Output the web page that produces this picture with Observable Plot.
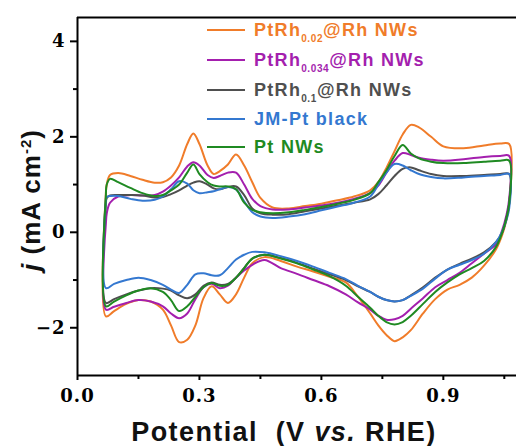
<!DOCTYPE html>
<html>
<head>
<meta charset="utf-8">
<script src="https://cdn.jsdelivr.net/npm/d3@7"></script>
<script src="https://cdn.jsdelivr.net/npm/@observablehq/plot@0.6"></script>
<style>
  html, body { margin: 0; padding: 0; background: #fff; }
  #chart { position: relative; width: 516px; height: 446px; }
</style>
</head>
<body>
<div id="chart"></div>
<script>
// Anodic (forward) scan potentials, V vs. RHE
const potentialUp = [0.07, 0.072, 0.08, 0.10, 0.13, 0.16, 0.19, 0.21, 0.23, 0.25, 0.27, 0.285, 0.30, 0.32, 0.335, 0.35, 0.37, 0.39, 0.41, 0.43, 0.45, 0.48, 0.52, 0.56, 0.60, 0.64, 0.68, 0.72, 0.74, 0.76, 0.78, 0.80, 0.82, 0.84, 0.87, 0.90, 0.95, 1.00, 1.04, 1.062];
// Cathodic (reverse) scan potentials
const potentialDown = [1.062, 1.055, 1.045, 1.03, 1.00, 0.97, 0.94, 0.91, 0.88, 0.85, 0.82, 0.80, 0.78, 0.76, 0.74, 0.72, 0.69, 0.66, 0.62, 0.58, 0.54, 0.50, 0.46, 0.43, 0.41, 0.39, 0.37, 0.35, 0.33, 0.31, 0.29, 0.27, 0.25, 0.23, 0.21, 0.18, 0.15, 0.12, 0.09, 0.07];

// PtRh0.02@Rh NWs
const orangeUp = [0.85, 1.0, 1.2, 1.24, 1.18, 1.10, 1.04, 1.05, 1.15, 1.4, 1.85, 2.07, 1.85, 1.4, 1.22, 1.28, 1.42, 1.63, 1.4, 1.05, 0.72, 0.52, 0.5, 0.55, 0.6, 0.67, 0.75, 0.88, 1.05, 1.35, 1.7, 2.05, 2.25, 2.2, 2.0, 1.8, 1.76, 1.82, 1.86, 1.85];
const orangeDown = [0.6, 0.25, -0.05, -0.35, -0.7, -0.95, -1.1, -1.2, -1.4, -1.7, -2.05, -2.2, -2.28, -2.15, -1.95, -1.7, -1.35, -1.05, -0.93, -0.82, -0.72, -0.6, -0.52, -0.65, -0.95, -1.3, -1.48, -1.3, -1.13, -1.38, -1.95, -2.25, -2.3, -1.95, -1.62, -1.45, -1.42, -1.5, -1.65, -1.76];
// PtRh0.034@Rh NWs
const purpleUp = [0.2, 0.4, 0.62, 0.75, 0.78, 0.77, 0.78, 0.85, 0.98, 1.15, 1.38, 1.47, 1.4, 1.2, 1.14, 1.18, 1.25, 1.25, 1.0, 0.7, 0.55, 0.48, 0.48, 0.52, 0.56, 0.62, 0.7, 0.82, 0.98, 1.25, 1.5, 1.66, 1.62, 1.56, 1.52, 1.5, 1.53, 1.58, 1.6, 1.6];
const purpleDown = [0.7, 0.35, 0.05, -0.25, -0.45, -0.65, -0.85, -1.0, -1.15, -1.38, -1.6, -1.75, -1.82, -1.83, -1.75, -1.62, -1.47, -1.3, -1.13, -1.0, -0.87, -0.75, -0.58, -0.68, -0.8, -0.95, -1.12, -1.17, -1.08, -1.15, -1.4, -1.7, -1.8, -1.7, -1.55, -1.45, -1.42, -1.48, -1.56, -1.62];
// PtRh0.1@Rh NWs
const grayUp = [0.6, 0.72, 0.77, 0.78, 0.78, 0.77, 0.73, 0.74, 0.8, 0.88, 0.98, 1.04, 1.07, 1.0, 0.92, 0.9, 0.95, 0.96, 0.78, 0.5, 0.4, 0.37, 0.38, 0.44, 0.5, 0.56, 0.62, 0.69, 0.8, 0.98, 1.18, 1.33, 1.36, 1.3, 1.22, 1.18, 1.18, 1.2, 1.22, 1.22];
const grayDown = [0.6, 0.3, 0.0, -0.2, -0.42, -0.55, -0.66, -0.78, -0.95, -1.15, -1.32, -1.42, -1.45, -1.42, -1.35, -1.25, -1.13, -1.0, -0.88, -0.76, -0.64, -0.54, -0.47, -0.55, -0.75, -0.95, -1.08, -1.1, -1.05, -1.12, -1.3, -1.38, -1.32, -1.22, -1.18, -1.17, -1.22, -1.3, -1.4, -1.48];
// JM-Pt black
const blueUp = [0.72, 0.74, 0.76, 0.76, 0.7, 0.66, 0.68, 0.75, 0.9, 1.07, 1.02, 0.88, 0.82, 0.84, 0.86, 0.9, 0.95, 0.9, 0.65, 0.42, 0.33, 0.3, 0.33, 0.38, 0.46, 0.54, 0.62, 0.75, 1.0, 1.25, 1.43, 1.4, 1.3, 1.22, 1.16, 1.13, 1.15, 1.18, 1.2, 1.22];
const blueDown = [0.5, 0.25, 0.02, -0.2, -0.45, -0.58, -0.68, -0.78, -0.97, -1.18, -1.33, -1.42, -1.45, -1.42, -1.35, -1.25, -1.12, -0.98, -0.85, -0.72, -0.6, -0.5, -0.42, -0.41, -0.47, -0.57, -0.75, -0.9, -0.9, -0.86, -0.88, -1.1, -1.27, -1.2, -1.1, -1.0, -0.95, -1.0, -1.08, -1.17];
// Pt NWs
const greenUp = [0.8, 1.0, 1.12, 1.05, 0.93, 0.82, 0.76, 0.78, 0.88, 1.0, 1.25, 1.42, 1.22, 1.05, 0.98, 0.96, 0.96, 0.9, 0.62, 0.47, 0.42, 0.4, 0.42, 0.47, 0.53, 0.6, 0.68, 0.82, 1.05, 1.3, 1.6, 1.83, 1.65, 1.55, 1.48, 1.45, 1.45, 1.48, 1.5, 1.5];
const greenDown = [0.6, 0.28, 0.0, -0.3, -0.6, -0.75, -0.88, -1.05, -1.25, -1.5, -1.75, -1.88, -1.93, -1.88, -1.75, -1.58, -1.35, -1.12, -0.92, -0.78, -0.65, -0.55, -0.47, -0.55, -0.75, -0.95, -1.1, -1.12, -1.06, -1.15, -1.35, -1.55, -1.65, -1.42, -1.25, -1.17, -1.22, -1.32, -1.45, -1.55];

const seriesNames = ["PtRh0.02@Rh NWs", "PtRh0.034@Rh NWs", "PtRh0.1@Rh NWs", "JM-Pt black", "Pt NWs"];
const seriesColors = ["#F07C2A", "#A41FAE", "#4F4F4F", "#3478D0", "#1F8A22"];
const upValues = [orangeUp, purpleUp, grayUp, blueUp, greenUp];
const downValues = [orangeDown, purpleDown, grayDown, blueDown, greenDown];

const yTicks = [-2, 0, 2, 4];
const yMinorTicks = [-1, 1, 3];
const xTicks = [0.0, 0.3, 0.6, 0.9];
const xMinorTicks = [0.15, 0.45, 0.75, 1.05];

// Legend text parts: [main, subscript, rest]
const legendParts = [["PtRh", "0.02", "@Rh NWs"], ["PtRh", "0.034", "@Rh NWs"], ["PtRh", "0.1", "@Rh NWs"], ["JM-Pt black", "", ""], ["Pt NWs", "", ""]];

const data = [];
seriesNames.forEach((name, si) => {
  const pts = [];
  potentialUp.forEach((p, i) => pts.push({ E: p, j: upValues[si][i], s: name }));
  potentialDown.forEach((p, i) => pts.push({ E: p, j: downValues[si][i], s: name }));
  pts.push({ ...pts[0] });
  data.push(...pts);
});

const chart = Plot.plot({
  width: 516,
  height: 446,
  marginLeft: 77,
  marginRight: 0,
  marginTop: 17,
  marginBottom: 71,
  style: { fontFamily: "DejaVu Serif", fontSize: "18px", fontWeight: "bold", background: "#fff", letterSpacing: "1px" },
  x: { domain: [0, 1.08] },
  y: { domain: [-3, 4.5] },
  color: { domain: seriesNames, range: seriesColors },
  marks: [
    Plot.line(data, { x: "E", y: "j", z: "s", stroke: "s", strokeWidth: 2, curve: "catmull-rom" }),
    Plot.axisY({ ticks: yTicks, tickSize: 7, tickPadding: 5, strokeWidth: 2, label: null, tickFormat: d => d < 0 ? "\u2212" + Math.abs(d) : String(d) }),
    Plot.axisY({ ticks: yMinorTicks, tickSize: 4, strokeWidth: 2, text: null, label: null }),
    Plot.axisX({ ticks: xTicks, tickSize: 5, tickPadding: 9, strokeWidth: 2, label: null, tickFormat: d => d.toFixed(1) }),
    Plot.axisX({ ticks: xMinorTicks, tickSize: 4, strokeWidth: 2, text: null, label: null }),
    Plot.ruleX([0], { strokeWidth: 2 }),
    Plot.ruleY([-3], { strokeWidth: 2 }),
    Plot.ruleY([4.5], { strokeWidth: 2 })
  ]
});

document.getElementById("chart").appendChild(chart);

const svg = d3.select(chart);
const sans = "'Liberation Sans', Arial, sans-serif";

// X axis title
const xt = svg.append("text")
  .attr("x", 284).attr("y", 441)
  .attr("text-anchor", "middle")
  .style("font-family", sans).style("font-size", "27px").style("font-weight", "bold").style("letter-spacing", "1.4px")
  .attr("fill", "#111");
xt.append("tspan").text("Potential\u00a0 (V ");
xt.append("tspan").style("font-style", "italic").text("vs.");
xt.append("tspan").text(" RHE)");

// Y axis title
const yt = svg.append("text")
  .attr("transform", "translate(40,200) rotate(-90)")
  .attr("text-anchor", "middle")
  .style("font-family", sans).style("font-size", "26px").style("font-weight", "bold").style("letter-spacing", "1px")
  .attr("fill", "#111");
yt.append("tspan").style("font-style", "italic").text("j");
yt.append("tspan").text(" (mA cm");
yt.append("tspan").attr("dy", -9).style("font-size", "15px").text("-2");
yt.append("tspan").attr("dy", 9).text(")");

// Legend
const legendY = [30, 60, 90, 119, 147];
const lg = svg.append("g").attr("text-anchor", "start");
seriesNames.forEach((name, i) => {
  lg.append("line").attr("x1", 207).attr("x2", 245).attr("y1", legendY[i]).attr("y2", legendY[i])
    .attr("stroke", seriesColors[i]).attr("stroke-width", 2);
  const t = lg.append("text").attr("x", 254).attr("y", legendY[i] + 6)
    .attr("text-anchor", "start")
    .style("font-family", sans).style("font-size", "18px").style("font-weight", "bold").style("letter-spacing", "1.3px")
    .attr("fill", seriesColors[i]);
  const parts = legendParts[i];
  t.append("tspan").text(parts[0]);
  if (parts[1]) {
    t.append("tspan").attr("dy", 6).style("font-size", "10px").style("letter-spacing", "0.6px").text(parts[1]);
    t.append("tspan").attr("dy", -6).text(parts[2]);
  }
});
</script>
</body>
</html>
